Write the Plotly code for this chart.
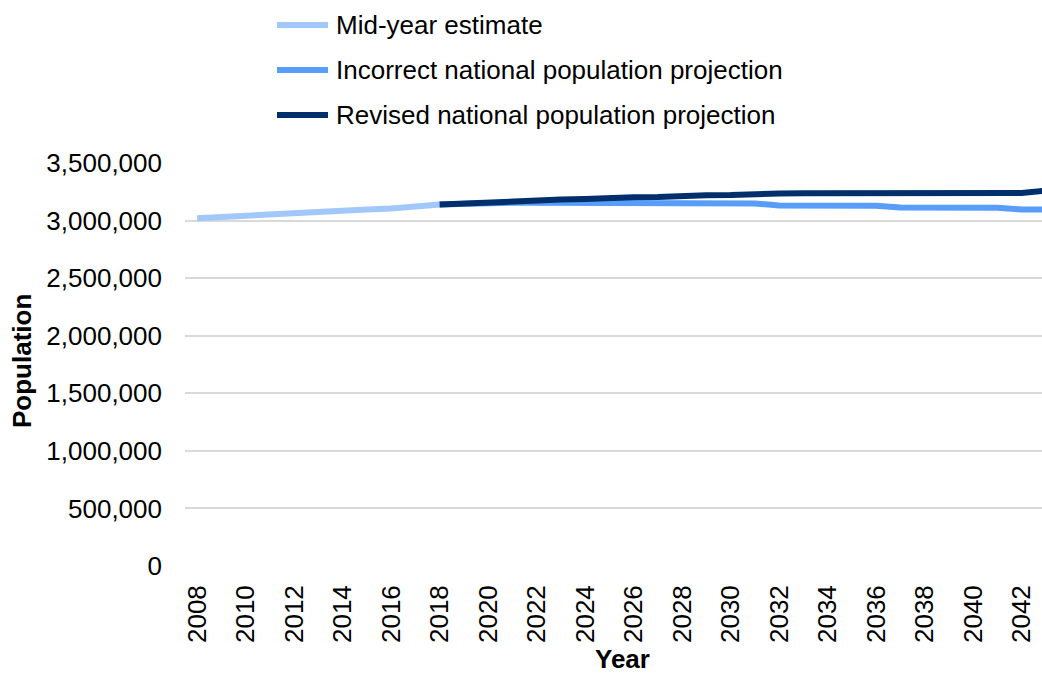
import plotly.graph_objects as go

# Population series (persons) by year
mye_years = list(range(2008, 2019))
mye_values = [3020000, 3032000, 3045000, 3060000, 3066000, 3078000,
              3085000, 3097000, 3104000, 3120000, 3138600]

proj_years = list(range(2018, 2044))
incorrect_values = [3138600, 3148000, 3152000, 3155000, 3155000, 3154000,
                    3154000, 3153000, 3153000, 3152000, 3152000, 3151000,
                    3150000, 3149000, 3131000, 3130000, 3130000, 3129000,
                    3129000, 3113000, 3113000, 3112000, 3112000, 3111000,
                    3096000, 3096000]
revised_values = [3138600, 3150000, 3158000, 3168000, 3172000, 3183000,
                  3188000, 3200000, 3202000, 3204000, 3218000, 3220000,
                  3221000, 3222000, 3236000, 3237000, 3237000, 3238000,
                  3238000, 3238000, 3238000, 3239000, 3239000, 3239000,
                  3240000, 3260000]

series_names = ["Mid-year estimate",
                "Incorrect national population projection",
                "Revised national population projection"]
series_colors = ["#A2C7FA", "#579DF9", "#002F6C"]

y_ticks = [0, 500000, 1000000, 1500000, 2000000, 2500000, 3000000, 3500000]

FONT = "Liberation Sans, Arial, sans-serif"
W, H = 1042, 675
L, R, T, B = 185, 0, 163, 109

fig = go.Figure()
fig.add_trace(go.Scatter(x=mye_years, y=mye_values, mode="lines",
                         name=series_names[0],
                         line=dict(color=series_colors[0], width=6)))
fig.add_trace(go.Scatter(x=proj_years, y=incorrect_values, mode="lines",
                         name=series_names[1],
                         line=dict(color=series_colors[1], width=6)))
fig.add_trace(go.Scatter(x=proj_years, y=revised_values, mode="lines",
                         name=series_names[2],
                         line=dict(color=series_colors[2], width=6)))

# Pixel -> paper coordinate helpers for the legend and axis titles
plot_w = W - L - R
plot_h = H - T - B
def px_x(p):
    return (p - L) / plot_w
def px_y(p):
    return (H - B - p) / plot_h

# Legend drawn as a stacked list above the plot
rows = [25, 70, 115]
for name, color, ry in zip(series_names, series_colors, rows):
    fig.add_shape(type="line", xref="paper", yref="paper",
                  x0=px_x(277), x1=px_x(328), y0=px_y(ry), y1=px_y(ry),
                  line=dict(color=color, width=6))
    fig.add_annotation(xref="paper", yref="paper", x=px_x(334), y=px_y(ry),
                       text=name, showarrow=False, xanchor="left",
                       yanchor="middle",
                       font=dict(family=FONT, size=26, color="#000000"))

# Axis titles
fig.add_annotation(xref="paper", yref="paper", x=px_x(22), y=px_y(361),
                   text="<b>Population</b>", textangle=-90, showarrow=False,
                   xanchor="center", yanchor="middle",
                   font=dict(family=FONT, size=26, color="#000000"))
fig.add_annotation(xref="paper", yref="paper", x=px_x(622), y=px_y(659),
                   text="<b>Year</b>", showarrow=False,
                   xanchor="center", yanchor="middle",
                   font=dict(family=FONT, size=26, color="#000000"))

fig.update_layout(
    width=W, height=H,
    margin=dict(l=L, r=R, t=T, b=B),
    paper_bgcolor="white", plot_bgcolor="white",
    showlegend=False,
    font=dict(family=FONT, size=26, color="#000000"),
)
fig.update_xaxes(
    range=[2007.5, 2042.84],
    tickmode="linear", tick0=2008, dtick=2,
    tickangle=-90, showgrid=False, zeroline=False, showline=False,
    ticks="", ticklabelstandoff=13,
    tickfont=dict(family=FONT, size=26),
)
fig.update_yaxes(
    range=[0, 3500000],
    tickvals=y_ticks, tickformat=",",
    showgrid=True, gridcolor="#D9D9D9", gridwidth=2,
    zeroline=False, showline=False, ticks="",
    ticklabelstandoff=22,
    tickfont=dict(family=FONT, size=26),
)

fig.write_html("out.html")
